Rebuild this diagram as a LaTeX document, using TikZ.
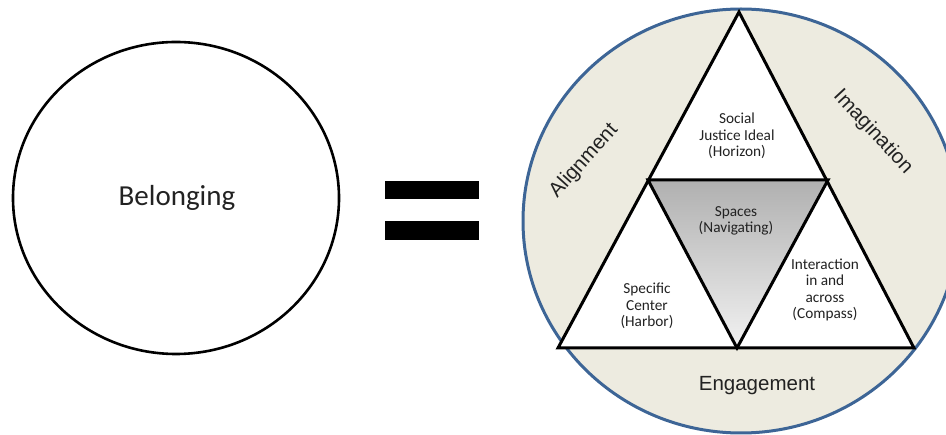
\documentclass[tikz,border=0pt]{standalone}
\usepackage{fontspec}
\setmainfont{Carlito}
\newfontfamily\arialf{Liberation Sans}
\definecolor{beige}{HTML}{EDEBE0}
\definecolor{rimblue}{HTML}{3D6596}
\definecolor{textgray}{HTML}{222222}
\begin{document}
\begin{tikzpicture}[x=1pt,y=-1pt,
  small/.style={font=\fontsize{15.3}{16.4}\selectfont, align=center, text=textgray, inner sep=0pt},
  big/.style={font=\arialf\fontsize{20.5}{24}\selectfont, text=textgray, inner sep=0pt},
  tri/.style={draw=black, line width=3pt, line join=miter},
  bar/.style={fill=black, draw=none}]
\useasboundingbox (0,0) rectangle (946,435);
% left circle
\draw[line width=2.6pt] (176,198) ellipse [x radius=163, y radius=156];
\node[font=\fontsize{29}{32}\selectfont, text=textgray, inner sep=0pt] (bel) at (177,198) {Belonging};
% equals sign
\fill[bar] (385,181) rectangle (479,199);
\fill[bar] (385,221) rectangle (479,240);
% right circle
\draw[fill=beige, draw=rimblue, line width=3pt] (741,221) ellipse [x radius=218, y radius=212];
\coordinate (A) at (739,12);
\coordinate (BL) at (558,348);
\coordinate (BR) at (914,348);
\coordinate (ML) at (648,180);
\coordinate (MR) at (828,180);
\coordinate (BM) at (737,348);
\fill[white] (A) -- (BR) -- (BL) -- cycle;
\shade[top color={rgb,255:red,176;green,176;blue,176}, bottom color={rgb,255:red,242;green,242;blue,242}] (ML) -- (MR) -- (BM) -- cycle;
\draw[tri] (A) -- (BR) -- (BL) -- cycle;
\draw[tri] (ML) -- (MR) -- (BM) -- cycle;
% texts
\node[small] (soc) at (737,136) {Social\\Justice Ideal\\(Horizon)};
\node[small] (spa) at (736,221) {Spaces\\(Navigating)};
\node[small] (spe) at (647,306) {Specific\\Center\\(Harbor)};
\node[small] (int) at (825,290) {Interaction\\in and\\across\\(Compass)};
\node[big, rotate=48] (ali) at (584,161) {Alignment};
\node[big, rotate=-47] (ima) at (873,132) {Imagination};
\node[big] (eng) at (757,386) {Engagement};
\end{tikzpicture}
\end{document}
